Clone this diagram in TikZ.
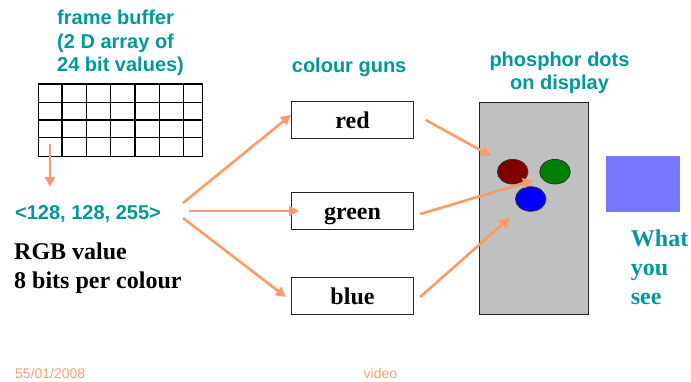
\documentclass[tikz,border=0pt]{standalone}
\usepackage{fontspec}
\setmainfont{Liberation Serif}
\newfontfamily\arialf{Liberation Sans}
\usetikzlibrary{arrows.meta}
\definecolor{teal}{HTML}{009999}
\definecolor{beam}{HTML}{FF9966}
\definecolor{foot}{HTML}{F7A074}
\definecolor{screen}{HTML}{C0C0C0}
\definecolor{seen}{HTML}{7878FF}
\definecolor{phred}{HTML}{800000}
\definecolor{phgreen}{HTML}{008000}
\definecolor{phblue}{HTML}{0000FF}
\begin{document}
\begin{tikzpicture}[x=1pt,y=-1pt,
  heading/.style={font=\arialf\bfseries\fontsize{20}{23.5}\selectfont, text=teal, inner sep=0pt},
  label/.style={font=\bfseries\fontsize{24}{29}\selectfont, inner sep=0pt},
  gun/.style={draw=black!85, line width=1pt, minimum width=121.5pt, minimum height=36.5pt,
              inner sep=0pt, text height=16.5pt, text depth=0pt,
              font=\bfseries\fontsize{24}{28}\selectfont},
  ray/.style={draw=beam, line width=2.6pt, -{Triangle[length=10pt,width=10pt]}},
  dot/.style={draw=black!80, line width=0.8pt},
  gridline/.style={line width=1.4pt},
  footer/.style={font=\arialf\fontsize{14}{16}\selectfont, text=foot, inner sep=0pt, anchor=base west}]
\useasboundingbox (0,0) rectangle (691,382);

% frame buffer caption (anchored on the baseline of its last line)
\node[heading, anchor=base west, align=left] (fbtitle) at (57,71.7)
  {frame buffer\\(2 D array of\\24 bit values)};

% frame buffer grid: 7 columns, 4 rows
\node[draw=black, gridline, minimum width=164pt, minimum height=72.5pt,
      inner sep=0pt, anchor=north west] (fb) at (37.5,83.3) {};
\foreach \cx in {62,86.5,110.7,135,159.3,183.7}
  \draw[gridline] (\cx,83.3) -- (\cx,155.8);
\foreach \ry in {102.3,120,137.8}
  \draw[gridline] (37.5,\ry) -- (201.5,\ry);

% pixel value read from the buffer
\coordinate (cell) at (50,144);
\node[heading, anchor=base west] (rgb) at (15,220) {<128, 128, 255>};
\coordinate (rgbtop) at (50,187);
\draw[ray] (cell) -- (rgbtop);

\node[label, anchor=base west, align=left] (rgbnote) at (14,288)
  {RGB value\\8 bits per colour};

% colour guns
\node[heading, anchor=base west] (gunstitle) at (291.7,72.7) {colour guns};
\node[gun] (red)   at (352.5,120)   {red};
\node[gun] (green) at (352.5,211)   {green};
\node[gun] (blue)  at (352.5,296)   {blue};

\coordinate (fromA) at (183,203);
\coordinate (fromB) at (189,211);
\coordinate (fromC) at (183,218);
\coordinate (toRed)   at (291,115);
\coordinate (toGreen) at (299,211);
\coordinate (toBlue)  at (286,297);
\draw[ray] (fromA) -- (toRed);
\draw[ray] (fromB) -- (toGreen);
\draw[ray] (fromC) -- (toBlue);

% display with phosphor dots
\node[heading, align=center, anchor=base] (phtitle) at (559.5,90)
  {phosphor dots\\on display};
\node[draw=black!85, fill=screen, line width=1pt, minimum width=109pt, minimum height=212.5pt,
      inner sep=0pt, anchor=north west] (display) at (479.3,101.7) {};

\draw[dot, fill=phred]   (512.7,171.7) ellipse [x radius=15.3, y radius=12.3];
\draw[dot, fill=phgreen] (555,171.7)   ellipse [x radius=15.3, y radius=12.3];
\draw[dot, fill=phblue]  (530.7,199)   ellipse [x radius=15.3, y radius=12.3];

\coordinate (redDot)   at (491,156);
\coordinate (greenDot) at (533,180.5);
\coordinate (blueDot)  at (510,217.5);
\draw[ray] ([xshift=12pt]red.east)   -- (redDot);
\draw[ray] ([xshift=6.5pt,yshift=-3pt]green.east) -- (greenDot);
\draw[ray] ([xshift=6.5pt,yshift=-1pt]blue.east)  -- (blueDot);

% perceived colour
\node[fill=seen, minimum width=74pt, minimum height=55.7pt, inner sep=0pt,
      anchor=north west] (swatch) at (606,156) {};
\node[label, text=teal, align=left, anchor=base west, font=\bfseries\fontsize{24}{29.2}\selectfont]
  (whatyousee) at (630.7,305) {What\\you\\see};

% footer
\node[footer] (date) at (15,378.3) {55/01/2008};
\node[footer] (topic) at (363.5,378.3) {video};
\end{tikzpicture}
\end{document}
